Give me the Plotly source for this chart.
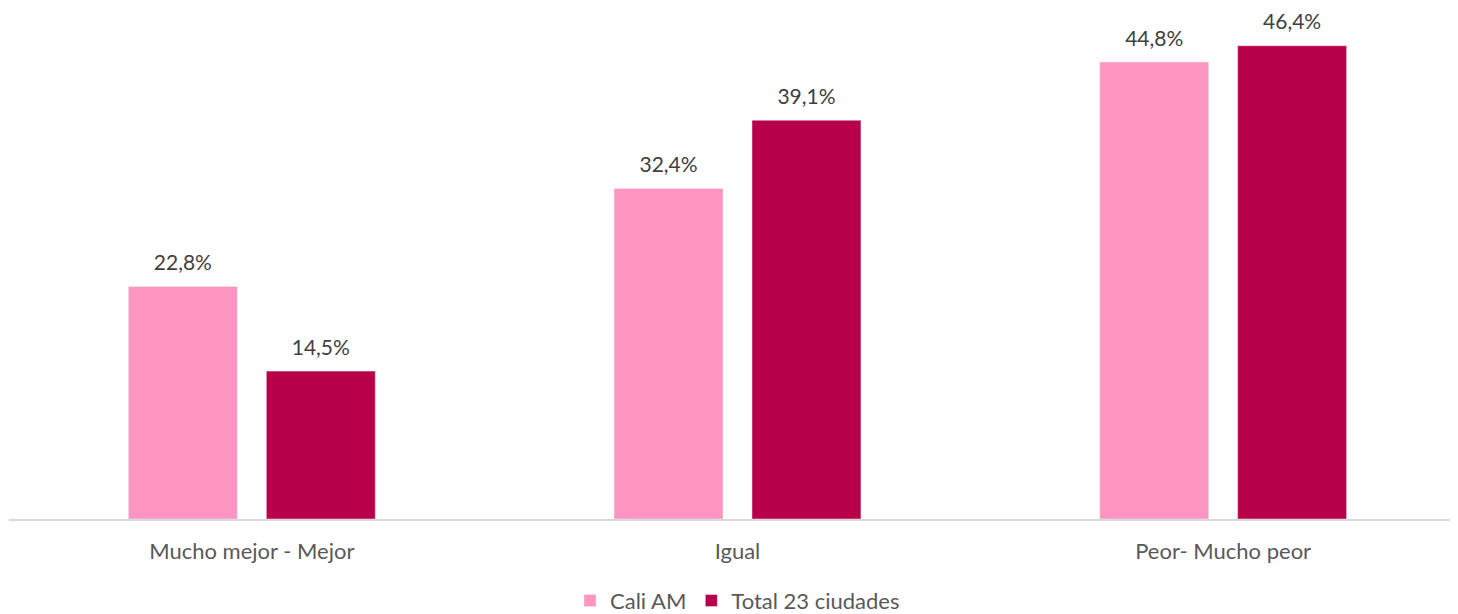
import plotly.graph_objects as go

categories = ["Mucho mejor - Mejor", "Igual", "Peor- Mucho peor"]
cali = [22.8, 32.4, 44.8]
total = [14.5, 39.1, 46.4]
series_names = ["Cali AM", "Total 23 ciudades"]
colors = ["#FF95C0", "#B9004B"]

def fmt(v):
    return f"{v:.1f}%".replace(".", ",")

GAP = 0.432
fig = go.Figure()
for name, vals, col in zip(series_names, [cali, total], colors):
    fig.add_trace(go.Bar(
        x=categories, y=vals, name=name, marker_color=col,
        offsetgroup=name,
    ))
for name, vals in zip(series_names, [cali, total]):
    fig.add_trace(go.Scatter(
        x=categories, y=vals, mode="markers+text", showlegend=False,
        offsetgroup=name, hoverinfo="skip",
        marker=dict(size=16, color="rgba(0,0,0,0)"),
        text=[fmt(v) for v in vals], textposition="top center",
        textfont=dict(size=21, color="#404040", family="Lato"),
        cliponaxis=False,
    ))

fig.update_layout(
    width=1458, height=614,
    margin=dict(l=1, r=0, t=0, b=98),
    paper_bgcolor="white", plot_bgcolor="white",
    barmode="group", bargap=GAP, bargroupgap=0.21,
    scattermode="group", scattergap=GAP,
    font=dict(family="Lato", size=22, color="#595959"),
    showlegend=True,
    legend=dict(orientation="h", x=0.5, xanchor="center", y=-0.16, yanchor="middle",
                font=dict(size=22, color="#595959"), traceorder="normal"),
    xaxis=dict(showline=True, linecolor="#D9D9D9", linewidth=1.5, ticks="outside",
               ticklen=12, tickcolor="rgba(0,0,0,0)", automargin=False,
               tickfont=dict(size=22, color="#595959")),
    yaxis=dict(range=[0, 50.1], showgrid=False, showticklabels=False, zeroline=False,
               automargin=False),
)
fig.write_html("out.html")
